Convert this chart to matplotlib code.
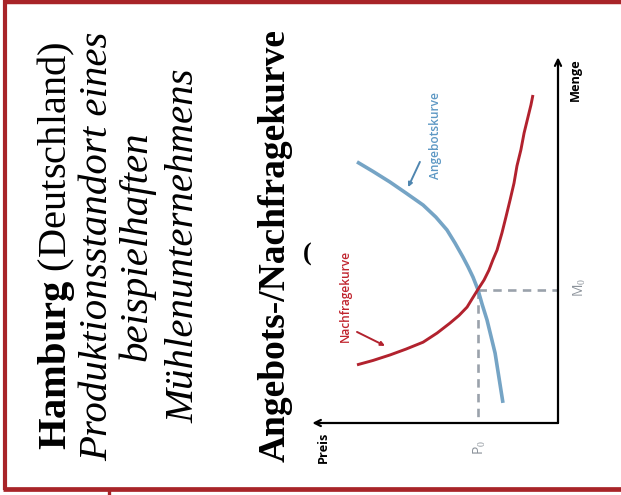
import matplotlib
matplotlib.use("Agg")
import matplotlib.pyplot as plt

plt.rcParams['mathtext.fontset'] = 'custom'
plt.rcParams['mathtext.rm'] = 'Liberation Serif'
plt.rcParams['mathtext.bf'] = 'Liberation Serif:bold'

# Angebotskurve (supply): Preis / Menge pairs
supply_preis = [8.18, 7.53, 6.84, 6.19, 5.49, 4.97, 4.52, 4.19, 3.87, 3.66,
                3.46, 3.26, 3.09, 2.89, 2.73, 2.56, 2.40, 2.24]
supply_menge = [7.14, 6.88, 6.59, 6.29, 5.96, 5.63, 5.28, 4.92, 4.54, 4.27,
                3.99, 3.65, 3.25, 2.82, 2.38, 1.91, 1.23, 0.55]

# Nachfragekurve (demand): Preis / Menge pairs
demand_preis = [8.18, 7.53, 6.84, 6.19, 5.49, 4.92, 4.40, 4.03, 3.70, 3.50,
                3.26, 3.01, 2.81, 2.65, 2.48, 2.28, 2.12, 1.95, 1.79, 1.67,
                1.51, 1.38, 1.22, 1.10, 1.02]
demand_menge = [1.59, 1.71, 1.86, 2.02, 2.21, 2.46, 2.73, 2.94, 3.17, 3.39,
                3.65, 3.91, 4.18, 4.46, 4.73, 5.20, 5.63, 6.10, 6.56, 7.03,
                7.47, 7.93, 8.37, 8.70, 8.97]

# equilibrium
p0 = 3.26
m0 = 3.65

title_lines = [
    (r"$\mathbf{Hamburg}$ (Deutschland)", 'normal', 'normal'),
    ("Produktionsstandort eines", 'italic', 'normal'),
    ("beispielhaften", 'italic', 'normal'),
    ("Mühlenunternehmens", 'italic', 'normal'),
    ("Angebots-/Nachfragekurve", 'normal', 'bold'),
]

RED = '#A82428'
BLUE = '#6E9FC2'
CURVE_RED = '#B2222E'
GREY = '#9AA2AB'

W, H = 621, 495
fig = plt.figure(figsize=(W / 100, H / 100), dpi=100)

# background layer in pixel units for the frame and the heading
bg = fig.add_axes([0, 0, 1, 1])
bg.set_xlim(0, W)
bg.set_ylim(H, 0)
bg.axis('off')

bg.plot([3, W], [2, 2], color=RED, lw=3.2, solid_capstyle='butt')
bg.plot([5.3, 5.3], [0, 490], color=RED, lw=3.0, solid_capstyle='butt')
bg.plot([3, W], [488.5, 488.5], color=RED, lw=3.4, solid_capstyle='butt')
bg.plot([109, 109], [488, H], color=RED, lw=2.4, solid_capstyle='butt')

baselines = [66, 107, 146, 193, 285]
sizes = [29.2, 29.4, 29.4, 29.4, 27.0]
for (txt, style, weight), bx, fs in zip(title_lines, baselines, sizes):
    bg.text(bx, 246, txt, rotation=90, rotation_mode='anchor',
            ha='center', va='baseline', fontsize=fs,
            family='Liberation Serif', style=style, weight=weight,
            color='black')

# stray glyph fragment under the heading
bg.text(307, 254, "(", fontsize=19, family='Liberation Serif',
        weight='bold', ha='center', va='center', color='black')

# diagram axes: Preis runs leftwards, Menge upwards
x0, x1 = 300, 558
y0, y1 = 423, 50
ax = fig.add_axes([x0 / W, (H - y0) / H, (x1 - x0) / W, (y0 - y1) / H])
ax.set_xlim(10.5, 0)
ax.set_ylim(0, 10.2)
ax.axis('off')

arrow = dict(arrowstyle='->', lw=1.6, color='black',
             shrinkA=0, shrinkB=0, mutation_scale=11)
ax.annotate('', xy=(10.0, 0), xytext=(0, 0), arrowprops=arrow,
            annotation_clip=False)
ax.annotate('', xy=(0, 10.0), xytext=(0, 0), arrowprops=arrow,
            annotation_clip=False)

ax.plot([p0, 0], [m0, m0], color=GREY, lw=1.9, dashes=(3.2, 2.4))
ax.plot([p0, p0], [m0, 0], color=GREY, lw=1.9, dashes=(3.2, 2.4))

ax.plot(supply_preis, supply_menge, color=BLUE, lw=2.6,
        solid_capstyle='butt', solid_joinstyle='round', alpha=0.95)
ax.plot(demand_preis, demand_menge, color=CURVE_RED, lw=2.1,
        solid_capstyle='butt', solid_joinstyle='round')

ax.annotate('', xy=(6.10, 6.45), xytext=(5.62, 7.14),
            arrowprops=dict(arrowstyle='-|>', lw=1.4, color='#4F86B0',
                            mutation_scale=6, shrinkA=0, shrinkB=0))
ax.annotate('', xy=(7.04, 2.11), xytext=(8.18, 2.49),
            arrowprops=dict(arrowstyle='-|>', lw=1.4, color=CURVE_RED,
                            mutation_scale=6, shrinkA=0, shrinkB=0))

lab = dict(rotation=90, ha='center', va='center', family='Open Sans',
           clip_on=False)
ax.text(5.0, 7.87, "Angebotskurve", color='#5D98C4', fontsize=8.6,
        weight='semibold', **lab)
ax.text(8.65, 3.47, "Nachfragekurve", color='#C0242E', fontsize=8.6,
        weight='semibold', **lab)
ax.text(9.56, -0.66, "Preis", color='black', fontsize=9.2, weight='bold', **lab)
ax.text(-0.69, 9.4, "Menge", color='black', fontsize=9.2, weight='bold', **lab)
ax.text(p0 - 0.08, -0.68, r"P$_0$", color='#8C939B', fontsize=10, **lab)
ax.text(-0.9, m0 + 0.05, r"M$_0$", color='#8C939B', fontsize=10, **lab)

fig.savefig("out.png", dpi=100)
